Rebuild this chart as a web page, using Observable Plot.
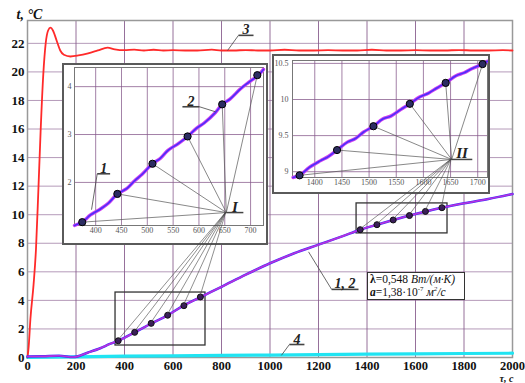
<!DOCTYPE html>
<html><head><meta charset="utf-8">
<script src="https://cdn.jsdelivr.net/npm/d3@7"></script>
<script src="https://cdn.jsdelivr.net/npm/@observablehq/plot@0.6"></script>
<style>
body{margin:0;background:#fff;}
#wrap{position:relative;width:525px;height:383px;overflow:hidden;font-family:"Liberation Serif",serif;}
.inset{position:absolute;background:#fff;outline:2px solid #5a5a5a;box-shadow:2px 2px 0 #aaa;}
#note{position:absolute;left:367px;top:272px;width:94px;height:26px;border:1px solid #333;background:#fff;font-size:11.5px;line-height:13px;padding-left:2px;color:#111;}
#note sup{font-size:7px;line-height:0;}
svg text{font-family:"Liberation Serif","Times New Roman",serif;}
</style></head><body><div id="wrap"></div>
<script>
// ---- main curves ----
const timeRed = [0,5,12,25,35,45,54,65,75,85,95,105,120,135,150,177,210,250,290,330,360,400,440,480,520,560,600,650,700,760,800,850,900,950,1000,1060,1120,1180,1240,1300,1360,1420,1480,1540,1600,1660,1720,1780,1840,1900,1960,2000];
const tempRed = [0,0.8,2.7,5.1,7.6,11.8,15.8,19.8,22.0,22.9,23.1,22.9,22.2,21.5,21.2,21.08,21.15,21.3,21.5,21.7,21.58,21.52,21.56,21.5,21.55,21.5,21.52,21.5,21.5,21.56,21.5,21.5,21.53,21.5,21.5,21.55,21.5,21.5,21.52,21.5,21.5,21.55,21.5,21.5,21.52,21.5,21.5,21.53,21.5,21.5,21.52,21.5];
const time12 = [0,60,130,190,250,300,340,371,442,511,577,643,710,800,900,1000,1100,1200,1300,1372,1441,1508,1575,1641,1709,1800,1900,2000];
const temp12 = [0.07,0.08,0.12,0.03,0.35,0.65,0.95,1.15,1.76,2.38,2.95,3.63,4.2,4.95,5.8,6.6,7.3,7.9,8.5,8.95,9.3,9.63,9.94,10.23,10.49,10.8,11.1,11.45];
const time4 = [0,200,400,600,800,1000,1200,1400,1600,1800,2000];
const temp4 = [0.0,0.05,0.09,0.12,0.15,0.17,0.2,0.23,0.26,0.28,0.3];
const xTicks = [0,200,400,600,800,1000,1200,1400,1600,1800,2000];
const yTicks = [0,2,4,6,8,10,12,14,16,18,20,22];

// ---- marked points (zoom windows) ----
const ptsI_t = [374,442,510,578,645,713];
const ptsI_v = [1.17,1.76,2.39,2.96,3.63,4.24];
const ptsII_t = [1372,1441,1508,1575,1641,1709];
const ptsII_v = [8.95,9.30,9.63,9.94,10.23,10.49];
const boxI = {t1:363, t2:734, v1:0.84, v2:4.55};
const boxII = {t1:1357, t2:1732, v1:8.69, v2:10.79};

// ---- inset curves ----
const insI_t = [359,375,390,410,425,442,460,475,490,510,525,540,560,578,595,610,632,645,660,680,695,715,725];
const insI_v = [1.10,1.18,1.32,1.45,1.57,1.76,1.87,2.03,2.17,2.39,2.50,2.67,2.81,2.96,3.13,3.24,3.46,3.63,3.74,3.95,4.08,4.24,4.36];
const insII_t = [1360,1372,1390,1410,1425,1441,1460,1475,1490,1508,1525,1540,1558,1575,1592,1610,1625,1641,1660,1675,1690,1709,1718];
const insII_v = [8.92,8.95,9.06,9.15,9.21,9.30,9.41,9.46,9.55,9.63,9.73,9.77,9.86,9.94,10.03,10.09,10.16,10.23,10.33,10.37,10.43,10.49,10.53];
const insI_xTicks = [400,450,500,550,600,650,700];
const insI_yTicks = [2,3,4];
const insII_xTicks = [1400,1450,1500,1550,1600,1650,1700];
const insII_yTicks = [9,9.5,10,10.5];
const convI = {t:653, v:1.37};
const convII = {t:1652, v:9.17};

// ---- curve labels (anchor on curve -> start of underline) ----
const lbl3 = {t:825, v:21.5, t1:870, v1:22.56, t2:932};
const lbl4 = {t:1047, v:0.15, t1:1080, v1:0.91, t2:1142};
const lbl12 = {t:1159, v:7.4, t1:1254, v1:4.77, t2:1365};
const lblI1 = {t:392, v:1.43, t1:403, v1:2.18, t2:428};
const lblI2 = {t:632, v:3.475, t1:601, v1:3.58, t2:568};

const zip = (a,b)=>a.map((x,i)=>({t:x,v:b[i]}));
const red = zip(timeRed,tempRed), c12 = zip(time12,temp12), c4 = zip(time4,temp4);
const pI = zip(ptsI_t,ptsI_v), pII = zip(ptsII_t,ptsII_v);
const iI = zip(insI_t,insI_v), iII = zip(insII_t,insII_v);
const FONT = '"Liberation Serif","Times New Roman",serif';
const GRID = '#84578a';
const fmt = d => String(d);

function labelMarks(L, text, size){
  return [
    Plot.link([L],{x1:"t",y1:"v",x2:"t1",y2:"v1",stroke:"#444",strokeWidth:0.8}),
    Plot.link([L],{x1:"t1",y1:"v1",x2:"t2",y2:"v1",stroke:"#444",strokeWidth:1.6}),
    Plot.text([L],{x:d=>(d.t1+d.t2)/2,y:"v1",text:()=>text,lineAnchor:"bottom",dy:-1,fontSize:size,fontWeight:"bold",fontStyle:"italic",fill:"#222",fontFamily:FONT})
  ];
}

const main = Plot.plot({
  width:525, height:383, marginLeft:27, marginRight:13, marginTop:20, marginBottom:26,
  style:{fontFamily:FONT, background:"#fff", color:"#111"},
  x:{domain:[0,2000], label:null},
  y:{domain:[0,23.6], label:null},
  marks:[
    Plot.gridX(xTicks,{stroke:GRID,strokeOpacity:0.85,strokeWidth:1}),
    Plot.gridY(yTicks,{stroke:GRID,strokeOpacity:0.6,strokeWidth:1}),
    Plot.frame({stroke:"#999",strokeWidth:1.5}),
    Plot.axisX(xTicks,{tickSize:0,tickPadding:4,fontSize:12.5,fontWeight:"bold",label:null,tickFormat:fmt,fontFamily:FONT}),
    Plot.axisY(yTicks,{tickSize:0,tickPadding:3,fontSize:13,fontWeight:"bold",label:null,tickFormat:fmt,fontFamily:FONT}),
    Plot.rect([boxI,boxII],{x1:"t1",x2:"t2",y1:"v1",y2:"v2",stroke:"#333",strokeWidth:1.3,fill:"none"}),
    Plot.line(c4,{x:"t",y:"v",stroke:"#20e4f2",strokeWidth:3.2}),
    Plot.line(red,{x:"t",y:"v",stroke:"#ff2a2a",strokeWidth:1.8,curve:"monotone-x"}),
    Plot.line(c12,{x:"t",y:"v",stroke:"#3a2cff",strokeWidth:2.5,curve:"monotone-x"}),
    Plot.line(c12,{x:"t",y:"v",stroke:"#c832d8",strokeWidth:1.6,strokeOpacity:0.9,curve:"monotone-x"}),
    Plot.dot(pI.concat(pII),{x:"t",y:"v",r:3,fill:"#3a1d5a",stroke:"#111",strokeWidth:1}),
    ...labelMarks(lbl3,"3",14),
    ...labelMarks(lbl4,"4",14),
    ...labelMarks(lbl12,"1, 2",14),
    Plot.text(["t, °C"],{frameAnchor:"top-left",dx:-11,dy:-2,lineAnchor:"bottom",textAnchor:"start",fontSize:14,fontWeight:"bold",fontStyle:"italic",fontFamily:FONT}),
    Plot.text(["τ, с"],{frameAnchor:"bottom-right",dx:1,dy:17,lineAnchor:"top",textAnchor:"end",fontSize:10,fontWeight:"bold",fontStyle:"italic",fontFamily:FONT})
  ]
});

function inset(opts){
  return Plot.plot({
    width:opts.w, height:opts.h, marginLeft:opts.ml, marginRight:opts.mr, marginTop:opts.mt, marginBottom:opts.mb,
    style:{fontFamily:FONT, background:"#fff", color:"#555"},
    x:{domain:opts.xd, label:null}, y:{domain:opts.yd, label:null},
    marks:[
      Plot.gridX(opts.xt,{stroke:GRID,strokeOpacity:0.75}),
      Plot.gridY(opts.yt,{stroke:GRID,strokeOpacity:0.75}),
      Plot.frame({stroke:"#777",strokeWidth:1}),
      Plot.axisX(opts.xt,{tickSize:0,tickPadding:2,fontSize:8,label:null,tickFormat:fmt,fontFamily:FONT}),
      Plot.axisY(opts.yt,{tickSize:0,tickPadding:opts.yp,fontSize:8,label:null,tickFormat:fmt,fontFamily:FONT}),
      Plot.link(opts.pts,{x1:()=>opts.conv.t,y1:()=>opts.conv.v,x2:"t",y2:"v",stroke:"#555",strokeWidth:0.7}),
      Plot.line(opts.curve,{x:"t",y:"v",stroke:"#d040f0",strokeWidth:3.4,curve:"catmull-rom"}),
      Plot.line(opts.curve,{x:"t",y:"v",stroke:"#2a2aff",strokeWidth:1.6,strokeOpacity:0.8,curve:"catmull-rom"}),
      Plot.dot(opts.pts,{x:"t",y:"v",r:3.6,fill:"#2c2c62",stroke:"#000",strokeWidth:1}),
      Plot.link([opts.conv],{x1:"t",y1:"v",x2:d=>d.t+opts.ul,y2:"v",stroke:"#444",strokeWidth:1.5}),
      Plot.text([opts.conv],{x:d=>d.t+opts.ul*0.5,y:"v",text:()=>opts.name,lineAnchor:"bottom",dy:-1,fontSize:15,fontWeight:"bold",fontStyle:"italic",fill:"#222",fontFamily:FONT}),
      ...(opts.extra||[])
    ]
  });
}

const insI = inset({w:202,h:178,ml:10,mr:3,mt:2,mb:18,xd:[359,725],yd:[1.1,4.4],xt:insI_xTicks,yt:insI_yTicks,yp:3,
  pts:pI,curve:iI,conv:convI,ul:33,name:"I",
  extra:[...labelMarks(lblI1,"1",14),...labelMarks(lblI2,"2",14)]});
const insII = inset({w:214,h:136,ml:18,mr:1,mt:4,mb:15,xd:[1359,1718],yd:[8.92,10.54],xt:insII_xTicks,yt:insII_yTicks,yp:4,
  pts:pII,curve:iII,conv:convII,ul:38,name:"II"});

const wrap = document.getElementById("wrap");
wrap.appendChild(main);
const posI = {left:64, top:65}, posII = {left:274, top:56};
for (const [el,pos] of [[insI,posI],[insII,posII]]){
  const d = document.createElement("div");
  d.className = "inset";
  d.style.left = pos.left+"px"; d.style.top = pos.top+"px";
  d.style.width = el.getAttribute("width")+"px"; d.style.height = el.getAttribute("height")+"px";
  el.style.display = "block";
  d.appendChild(el);
  wrap.appendChild(d);
}

// overlay leader lines: convergence point in inset -> points on main curve
const mx = main.scale("x"), my = main.scale("y");
const ov = d3.select(wrap).append("svg").attr("width",525).attr("height",383)
  .style("position","absolute").style("left","0px").style("top","0px").style("pointer-events","none");
function fan(ins, pos, conv, pts){
  const cx = pos.left + ins.scale("x").apply(conv.t);
  const cy = pos.top + ins.scale("y").apply(conv.v);
  ov.selectAll(null).data(pts).join("line")
    .attr("x1",cx).attr("y1",cy)
    .attr("x2",d=>mx.apply(d.t)).attr("y2",d=>my.apply(d.v))
    .attr("stroke","#444").attr("stroke-width",0.6);
}
fan(insI,posI,convI,pI);
fan(insII,posII,convII,pII);

const note = document.createElement("div");
note.id = "note";
note.innerHTML = '<b>λ</b>=0,548 <i>Вт/(м·К)</i><br><b><i>a</i></b>=1,38·10<sup>-7</sup> <i>м<sup>2</sup>/с</i>';
wrap.appendChild(note);
</script>
</body></html>
